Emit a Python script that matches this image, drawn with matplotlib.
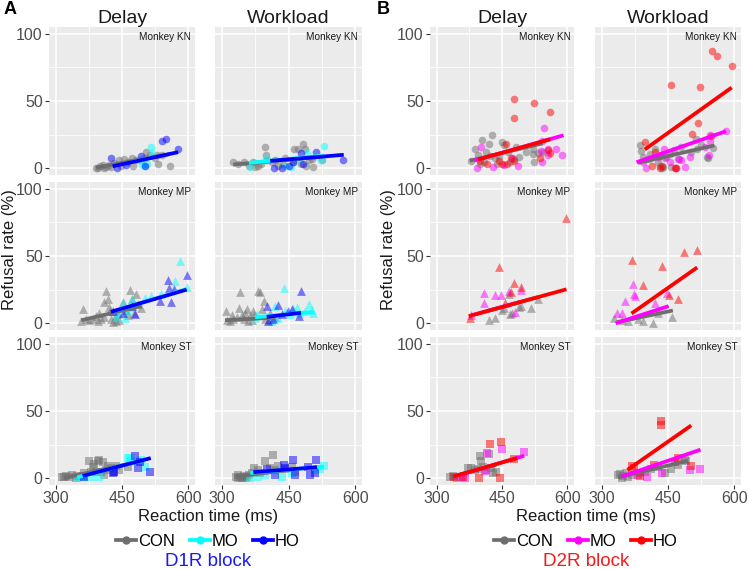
"""Refusal rate vs reaction time, D1R / D2R block, three monkeys."""

import matplotlib

matplotlib.use("Agg")

import matplotlib.pyplot as plt
from matplotlib.lines import Line2D

plt.rcParams["font.family"] = ["Liberation Sans", "DejaVu Sans"]

# ---- session data: (reaction time [ms], refusal rate [%]) ----
# D1R block, monkey KN
D1_KN_DELAY_CON = ([391, 395, 401, 406, 409, 414, 421.5, 425, 433, 444, 448, 454, 463, 472, 475, 482, 494, 501, 505, 513, 524, 530, 532, 541, 558],
                   [0, 0.5, 1.5, 2.5, 0, 1, 2.5, 1, 4, 6, 2, 7, 5, 8, 1.5, 6, 6, 8, 12, 9.5, 7.5, 9.5, 3, 10, 1.5])
D1_KN_DELAY_MO = ([495, 501, 507, 516, 518], [2.5, 1.5, 3.5, 16, 11.5])
D1_KN_DELAY_HO = ([426, 438, 459.5, 492, 501, 541, 549, 576], [8, 0, 2.5, 8.75, 2, 20, 22, 14])
D1_KN_WORK_CON = ([326, 337, 351, 361, 371, 375, 382, 389, 397, 399, 401, 412, 420, 427.5, 438, 442, 460, 463, 470.5, 478, 482.5, 486, 490, 497, 502, 506, 525],
                  [4.5, 3, 4.5, 1.5, 4.5, 1, 1.5, 3, 16, 10, 6.5, 4.5, 6, 2, 3, 8, 4.5, 14, 14, 3, 18, 14.5, 2, 6, 7, 1, 6])
D1_KN_WORK_MO = ([364, 399, 442, 456, 472.5, 491, 523.5, 529], [1, 7.5, 1.5, 1, 6, 11.5, 6, 16.5])
D1_KN_WORK_HO = ([418.5, 436.5, 450, 461, 477, 481.5, 511.5, 571.5], [0, 0, 1.5, 4.5, 11, 3, 12, 6])

# D1R block, monkey MP
D1_MP_DELAY_CON = ([358, 361, 368, 376, 383.5, 391, 395, 399, 402.5, 410, 410, 414, 418, 421.5, 424, 425, 429, 434, 437.5, 440.5, 444, 452, 459.5, 463, 469, 472, 478, 482, 486, 494],
                   [2, 10.75, 3.5, 2.75, 3.5, 5.25, 2, 7.75, 3.5, 4.5, 16, 24, 17.75, 12, 9, 3.5, 1, 4.5, 1.5, 7, 2.75, 16, 9.5, 6, 25, 17.75, 7.75, 22, 14, 11])
D1_MP_DELAY_MO = ([437, 442, 452, 455.7, 463, 467, 472, 501, 516.5, 539, 570, 581, 596],
                  [4.5, 7.75, 15.25, 4, 9, 12, 17.75, 19, 20.25, 22, 31.5, 46, 27])
D1_MP_DELAY_HO = ([429, 452, 472, 480, 535.5, 553, 556, 561, 568, 596],
                  [9, 7.75, 12.75, 7, 16.5, 32, 26.5, 16, 25.5, 35.75])
D1_MP_WORK_CON = ([309, 311, 319, 322.5, 326, 334, 339, 341, 345, 349, 352.5, 356, 360, 364, 367.5, 371, 373.5, 381, 386, 390, 394, 397.5, 406.5, 409, 420],
                  [9, 2.75, 2, 6.5, 3.5, 4.5, 11.5, 23.5, 6.5, 3.5, 7.75, 10.25, 2, 5.25, 2.75, 9, 6.5, 24, 23.5, 10.25, 16.5, 3.5, 2.75, 7.75, 4.5])
D1_MP_WORK_MO = ([375, 379, 412.5, 420, 427.5, 439, 442.5, 454, 461, 469, 472.5, 487.5, 495, 502.5, 506],
                 [4, 7, 2, 12.75, 4, 26.5, 9, 7, 10.25, 12, 7.75, 9, 14.5, 9.5, 8])
D1_MP_WORK_HO = ([401, 405, 416, 427.5, 435, 448.5, 457.5, 472.5, 478],
                 [12.75, 2, 3.5, 13.5, 7, 9, 10.25, 5.25, 24])

# D1R block, monkey ST
D1_ST_DELAY_CON = ([315, 319, 323, 330, 336, 345.5, 349, 361, 364.5, 376, 380, 383.5, 387, 391, 395, 399, 402.5, 406, 410, 414, 418, 425, 433, 437, 444, 463],
                   [1.25, 0.75, 1.75, 0.75, 2.5, 0.5, 1.75, 2, 3.75, 12.5, 5, 8.25, 10.75, 4.5, 12.5, 13.75, 5, 11.75, 2.5, 6.25, 9.25, 7.5, 5, 9.25, 6.25, 8.75])
D1_ST_DELAY_MO = ([349, 361, 380, 399, 463, 467, 471, 494, 501], [0, 0.75, 0.75, 1.25, 15, 15, 12.5, 13.75, 8.5])
D1_ST_DELAY_HO = ([364.5, 429, 433, 480, 486, 490, 512.5], [1.25, 4.25, 5, 16.5, 7.5, 12, 5])
D1_ST_WORK_CON = ([331.5, 336, 337.5, 341, 345, 351, 352.5, 356, 361.5, 367.5, 373.5, 382.5, 386, 397.5, 409, 415, 420, 427.5, 442.5, 457.5, 465],
                  [0.75, 2.5, 0, 1.25, 0, 1.75, 0, 0.75, 2.5, 3.75, 7.5, 6.25, 3.75, 12.5, 7.5, 17.5, 6.25, 9.25, 6.75, 8.25, 5])
D1_ST_WORK_MO = ([364, 382.5, 397.5, 435, 457.5, 510, 521, 529], [0, 1.25, 2.5, 1.25, 3.75, 6.25, 7, 9])
D1_ST_WORK_HO = ([402.5, 420, 440.5, 442.5, 459, 463.5, 494, 499, 508.5, 512],
                 [7, 2.5, 10, 8, 13.25, 2.5, 8.75, 2.5, 3.75, 13.75])

# D2R block, monkey KN
D2_KN_DELAY_CON = ([380, 387, 395, 399, 404, 408.6, 414, 420, 421.5, 427, 433, 439, 442, 449.6, 455.7, 463, 469, 477, 482, 490, 505, 520, 521.8, 522.5, 531.6, 543],
                   [5.75, 14, 10, 3.25, 20.75, 5, 12, 18.25, 9, 25, 7.5, 3.25, 8.25, 19.5, 17, 12, 5, 7, 15.75, 8.25, 12, 14, 10.75, 5, 11.5, 12])
D2_KN_DELAY_MO = ([393.4, 401, 429, 454, 472.4, 487.6, 539, 540.8, 540.8, 546.8, 556, 556, 573.4, 588.6],
                  [0, 15.75, 0.75, 2.5, 7.5, 2, 12.5, 20, 5, 30, 14, 9.5, 14.5, 9.5])
D2_KN_DELAY_HO = ([399, 416, 444, 449.6, 459.5, 461.8, 471, 477, 478.5, 478.5, 522.5, 537.7, 554.4, 560.5, 560.5],
                  [5.75, 3.25, 5.75, 3.25, 18.25, 3.25, 7.5, 5.75, 51.5, 37, 48.75, 7.5, 13.25, 11.5, 42])
D2_KN_WORK_CON = ([386, 389, 394, 406.5, 409, 420, 427.5, 431, 435, 436.5, 438.7, 442.5, 454, 456, 463.5, 472.5, 480, 502.5, 513.5, 516, 525, 538.5, 540, 551],
                  [17, 12.5, 8.25, 7, 10.75, 14.5, 4.5, 2, 9.5, 0, 0.75, 7.5, 10.75, 0.75, 13.25, 7, 15.75, 12, 22, 14, 17, 8.25, 7.8, 15])
D2_KN_WORK_MO = ([394, 401, 427.5, 441, 446, 454, 467.5, 474.75, 480, 487.5, 498.7, 532.5, 543.8, 546, 546, 581],
                 [4.5, 0.5, 8.25, 14.5, 8.25, 4.5, 0, 7, 6.25, 0.75, 8.25, 15.75, 9.5, 20, 24.5, 27.5])
D2_KN_WORK_HO = ([397.5, 414.7, 420, 429.7, 431, 436.5, 457.5, 466, 468.7, 505, 517.5, 522.75, 547.5, 549, 560, 594],
                 [19.5, 2, 12, 8.8, 0, 2, 62, 0, 0, 25.75, 33.75, 60.75, 24, 87.5, 83.75, 75.75])

# D2R block, monkey MP
D2_MP_DELAY_CON = ([420, 435, 449.6, 455.6, 465, 468.5, 472.4, 490, 493.6, 516.5, 531.7],
                   [2.5, 4, 9.75, 11.5, 22, 7, 7.75, 12.25, 12.7, 11.5, 17.75])
D2_MP_DELAY_MO = ([379.7, 408.6, 408.6, 434.4, 446.6, 467, 480, 493.3], [6.5, 22.25, 15.25, 20.75, 20.75, 24, 8.25, 24.75])
D2_MP_DELAY_HO = ([376, 444, 458, 471.4, 476.6, 493.3, 597.7], [4, 42, 14.75, 23.25, 29.75, 27.25, 78.25])
D2_MP_WORK_CON = ([327, 346.5, 360, 382.5, 394.5, 415, 427.5, 460], [4, 2.25, 1.5, 3.25, 2, 0.5, 7.75, 5])
D2_MP_WORK_MO = ([334, 345, 352.5, 371, 373.5, 376.5, 420, 448.5], [8, 7.75, 16.5, 29, 21.5, 20, 14.75, 22.5])
D2_MP_WORK_HO = ([367.5, 394, 436.5, 451.5, 472.5, 486, 516], [47, 28.25, 42.75, 20.75, 17.75, 52.75, 54.75])

# D2R block, monkey ST
D2_ST_DELAY_CON = ([331.6, 337, 346.8, 372, 379.7, 387.3, 395, 400, 402.5, 406, 414, 420, 425, 429, 436.7],
                   [0.75, 1.75, 0.5, 7.5, 8, 6.25, 6.75, 16.3, 12.5, 8.75, 6, 17.75, 8, 4.25, 5])
D2_ST_DELAY_MO = ([357, 364.5, 411, 416, 450, 499.7], [0.75, 0, 5.75, 18.5, 22, 19.25])
D2_ST_DELAY_HO = ([340, 360.8, 396.5, 421.5, 444.3, 446.6, 478], [1.25, 0.75, 0, 25.75, 0, 27, 14])
D2_ST_WORK_CON = ([337, 341, 345, 349, 356, 360, 367.5, 386, 397.5, 412.5, 427.5, 442.5, 457.5, 472.5, 487.5, 491],
                  [2.5, 3.25, 0, 1.75, 4.25, 0.75, 2.5, 3.75, 5, 6.75, 8.25, 3.75, 6.75, 10, 13.75, 12.5])
D2_ST_WORK_MO = ([382.5, 403.5, 436.5, 498.75, 521.25], [2.5, 1.25, 4.25, 6, 7.25])
D2_ST_WORK_HO = ([367.5, 372.7, 386, 418.5, 435, 435, 465, 472.5, 502.5], [9.25, 7.5, 1.75, 10, 42.5, 39.25, 11.75, 15, 9.25])

# ---- linear fits: (x_start, x_end, y_start, y_end) ----
D1_KN_DELAY_FIT = {"CON": (391, 558, 0.5, 10.5), "MO": (470, 518, 4.5, 7.8), "HO": (429, 577, 1.5, 12)}
D1_KN_WORK_FIT = {"CON": (326, 525, 2.75, 8.5), "MO": (361, 529, 4, 9.5), "HO": (409, 574, 5.5, 10)}
D1_MP_DELAY_FIT = {"CON": (358, 494, 2.2, 12.8), "MO": (437, 596, 9.5, 25.5), "HO": (425, 596, 8.5, 25)}
D1_MP_WORK_FIT = {"CON": (307.5, 420, 2.25, 4.2), "MO": (375, 506, 4.5, 8.5), "HO": (401, 478, 4.75, 7.75)}
D1_ST_DELAY_FIT = {"CON": (319, 463, 0.3, 10.5), "MO": (349, 501, 0.7, 13.8), "HO": (361, 515, 1.75, 15)}
D1_ST_WORK_FIT = {"CON": (331, 465, 1.2, 6.8), "MO": (364, 529, 4, 8.7), "HO": (371, 514, 4.5, 8.25)}
D2_KN_DELAY_FIT = {"CON": (376, 543, 5.6, 18.5), "MO": (387, 591, 5.75, 24.5), "HO": (395, 560.5, 6.5, 21.5)}
D2_KN_WORK_FIT = {"CON": (382.5, 555, 4, 17), "MO": (379, 581, 4.5, 27.5), "HO": (397.5, 594, 14, 60)}
D2_MP_DELAY_FIT = {"CON": (420, 531.7, 9.4, 19.4), "MO": (379.7, 493.3, 5.9, 16), "HO": (373.7, 597.7, 5.25, 25.25)}
D2_MP_WORK_FIT = {"CON": (334, 461, 0.75, 9.5), "MO": (331.5, 451.5, 0, 12.75), "HO": (367.5, 516, 7.25, 41.5)}
D2_ST_DELAY_FIT = {"CON": (331.6, 436.7, 1, 10), "MO": (338, 501, 1, 16.75), "HO": (338, 484.6, 1.25, 15)}
D2_ST_WORK_FIT = {"CON": (337.5, 495, 0.75, 13), "MO": (345, 523.5, 1.25, 21.25), "HO": (358.5, 502.5, 6.25, 39.25)}

GROUPS = ["CON", "MO", "HO"]
MONKEYS = ["KN", "MP", "ST"]
TASKS = ["Delay", "Workload"]

PANELS = {
    ("D1R", "KN", "Delay"): ((D1_KN_DELAY_CON, D1_KN_DELAY_MO, D1_KN_DELAY_HO), D1_KN_DELAY_FIT),
    ("D1R", "KN", "Workload"): ((D1_KN_WORK_CON, D1_KN_WORK_MO, D1_KN_WORK_HO), D1_KN_WORK_FIT),
    ("D1R", "MP", "Delay"): ((D1_MP_DELAY_CON, D1_MP_DELAY_MO, D1_MP_DELAY_HO), D1_MP_DELAY_FIT),
    ("D1R", "MP", "Workload"): ((D1_MP_WORK_CON, D1_MP_WORK_MO, D1_MP_WORK_HO), D1_MP_WORK_FIT),
    ("D1R", "ST", "Delay"): ((D1_ST_DELAY_CON, D1_ST_DELAY_MO, D1_ST_DELAY_HO), D1_ST_DELAY_FIT),
    ("D1R", "ST", "Workload"): ((D1_ST_WORK_CON, D1_ST_WORK_MO, D1_ST_WORK_HO), D1_ST_WORK_FIT),
    ("D2R", "KN", "Delay"): ((D2_KN_DELAY_CON, D2_KN_DELAY_MO, D2_KN_DELAY_HO), D2_KN_DELAY_FIT),
    ("D2R", "KN", "Workload"): ((D2_KN_WORK_CON, D2_KN_WORK_MO, D2_KN_WORK_HO), D2_KN_WORK_FIT),
    ("D2R", "MP", "Delay"): ((D2_MP_DELAY_CON, D2_MP_DELAY_MO, D2_MP_DELAY_HO), D2_MP_DELAY_FIT),
    ("D2R", "MP", "Workload"): ((D2_MP_WORK_CON, D2_MP_WORK_MO, D2_MP_WORK_HO), D2_MP_WORK_FIT),
    ("D2R", "ST", "Delay"): ((D2_ST_DELAY_CON, D2_ST_DELAY_MO, D2_ST_DELAY_HO), D2_ST_DELAY_FIT),
    ("D2R", "ST", "Workload"): ((D2_ST_WORK_CON, D2_ST_WORK_MO, D2_ST_WORK_HO), D2_ST_WORK_FIT),
}

COLORS = {
    "D1R": {"CON": "#6E6E6E", "MO": "#00FFFF", "HO": "#0000FF"},
    "D2R": {"CON": "#6E6E6E", "MO": "#FF00FF", "HO": "#FF0000"},
}
MARKERS = {"KN": ("o", 30), "MP": ("^", 40), "ST": ("s", 26)}

W, H = 749, 569
COL_PX = {"D1R": [(49, 195), (215, 362)], "D2R": [(430, 574), (595, 741)]}
ROW_PX = [(27, 175), (182, 330), (337, 485)]
TEXT = "#4D4D4D"

fig = plt.figure(figsize=(W / 100, H / 100), dpi=100)


def px_axes(x0, y0, x1, y1):
    return fig.add_axes([x0 / W, 1 - y1 / H, (x1 - x0) / W, (y1 - y0) / H])


for block in ["D1R", "D2R"]:
    for r, monkey in enumerate(MONKEYS):
        for c, task in enumerate(TASKS):
            x0, x1 = COL_PX[block][c]
            y0, y1 = ROW_PX[r]
            ax = px_axes(x0, y0, x1, y1)
            ax.set_facecolor("#EBEBEB")
            for side in ax.spines.values():
                side.set_visible(False)
            series, fits = PANELS[(block, monkey, task)]
            marker, size = MARKERS[monkey]
            for g, (xs, ys) in zip(GROUPS, series):
                ax.scatter(xs, ys, marker=marker, s=size, color=COLORS[block][g],
                           alpha=0.5, linewidths=0, zorder=3)
            for g in GROUPS:
                xa, xb, ya, yb = fits[g]
                ax.plot([xa, xb], [ya, yb], color=COLORS[block][g], lw=2.7,
                        solid_capstyle="butt", zorder=4)
            ax.set_xlim(285, 615)
            ax.set_ylim(-5, 105)
            ax.set_xticks([300, 450, 600])
            ax.set_xticks([375, 525], minor=True)
            ax.set_yticks([0, 50, 100])
            ax.set_yticks([25, 75], minor=True)
            ax.grid(True, which="major", color="white", lw=1.1)
            ax.grid(True, which="minor", color="white", lw=0.55)
            ax.set_axisbelow(True)
            ax.tick_params(which="minor", length=0)
            ax.tick_params(which="major", length=3, width=0.8, color="#333333",
                           labelsize=11.5, labelcolor=TEXT, pad=1.5)
            ax.tick_params(axis="x", bottom=(r == 2), labelbottom=(r == 2))
            ax.tick_params(axis="y", left=(c == 0), labelleft=(c == 0))
            ax.text(0.975, 0.965, f"Monkey {monkey}", transform=ax.transAxes,
                    ha="right", va="top", fontsize=7.2, color="#1A1A1A")
            if r == 0:
                ax.set_title(task, fontsize=14, color="#1A1A1A", pad=3)

# panel letters, axis labels, legends
fig.text(10 / W, 1 - 10 / H, "A", fontsize=13, fontweight="bold", ha="center", va="center")
fig.text(383 / W, 1 - 10 / H, "B", fontsize=13, fontweight="bold", ha="center", va="center")
for block, ylab_x, center_x, label_color in [("D1R", 10, 208, "#1A1AF5"), ("D2R", 388, 586, "#F51A1A")]:
    fig.text(ylab_x / W, 1 - 250 / H, "Refusal rate (%)", rotation=90, fontsize=12,
             ha="center", va="center", color="#1A1A1A")
    fig.text(center_x / W, 1 - 517 / H, "Reaction time (ms)", fontsize=12,
             ha="center", va="center", color="#1A1A1A")
    handles = [Line2D([], [], color=COLORS[block][g], lw=2.7, marker="o", markersize=5)
               for g in GROUPS]
    fig.legend(handles, GROUPS, loc="center", bbox_to_anchor=(center_x / W, 1 - 541 / H),
               ncol=3, frameon=False, fontsize=12, handlelength=1.2, handletextpad=0.1,
               columnspacing=0.9, borderpad=0)
    fig.text(center_x / W, 1 - 561 / H, f"{block} block", fontsize=13.5,
             ha="center", va="center", color=label_color)

fig.savefig("out.png", dpi=100)
